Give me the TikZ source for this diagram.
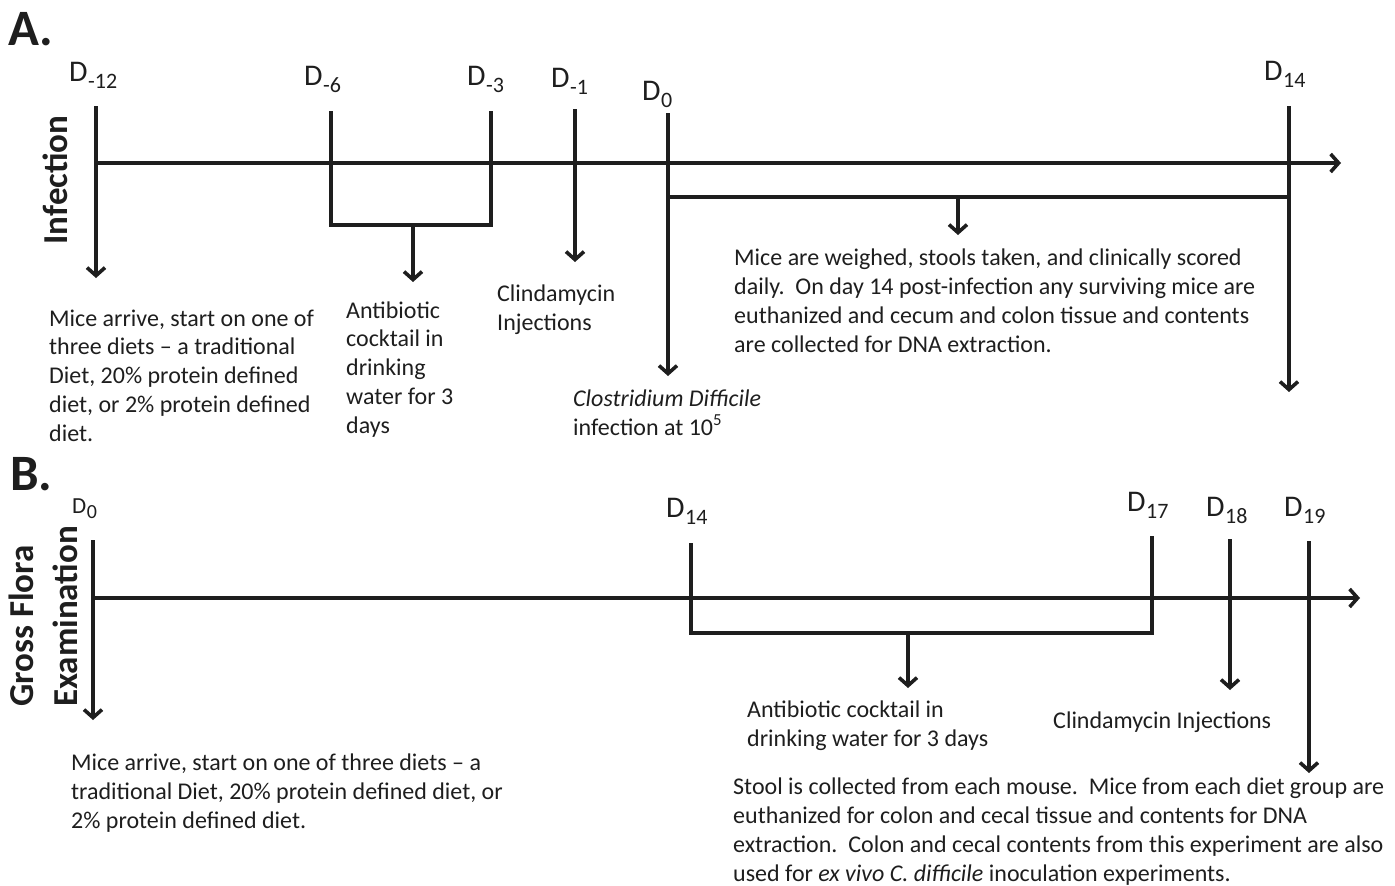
\documentclass[tikz,border=0pt]{standalone}
\usepackage{fontspec}
\setmainfont{Carlito}
\usetikzlibrary{arrows.meta}
\definecolor{ink}{RGB}{30,30,30}
\begin{document}
\begin{tikzpicture}[x=1pt,y=-1pt,
  tl/.style={draw=ink, line width=3.6pt, line join=miter},
  arr/.style={tl, -{Straight Barb[length=8pt,width=18pt]}},
  body/.style={anchor=base west, inner sep=0pt, align=left, text=ink, font=\fontsize{24}{28.7}\selectfont},
  day/.style={anchor=base west, inner sep=0pt, text=ink, font=\fontsize{30}{30}\selectfont},
  dayS/.style={anchor=base west, inner sep=0pt, text=ink, font=\fontsize{23}{23}\selectfont},
  panel/.style={anchor=base west, inner sep=0pt, text=ink, font=\fontsize{51}{51}\selectfont\bfseries},
  side/.style={inner sep=0pt, text=ink, rotate=90, font=\fontsize{35}{35}\selectfont\bfseries}]
\useasboundingbox (0,0) rectangle (1395,886);
\newcommand{\sub}[1]{\kern0.5pt\raisebox{-7pt}{\fontsize{22}{22}\selectfont #1}}
\newcommand{\subS}[1]{\kern0.5pt\raisebox{-5pt}{\fontsize{20}{20}\selectfont #1}}

% ---------- Panel A ----------
\node[panel] (pA) at (8,45) {A.};
\node[side, anchor=base] (inf) at (67,180) {Infection};

\coordinate (aL) at (96,163);
\coordinate (aR) at (1341,163);
\draw[arr] (aL) -- (aR);

\node[day] (d12) at (69,81) {D\sub{-12}};
\node[day] (d6) at (304,85) {D\sub{-6}};
\node[day] (d3) at (467,85) {D\sub{-3}};
\node[day] (d1) at (551,87) {D\sub{-1}};
\node[day] (d0) at (642,100) {D\sub{0}};
\node[day] (d14) at (1264,80) {D\sub{14}};

\coordinate (a12t) at (96,106);  \coordinate (a12b) at (96,278);
\coordinate (a6t) at (331,111);  \coordinate (a6b) at (331,225);
\coordinate (a3t) at (491,111);  \coordinate (a3b) at (491,225);
\coordinate (abm) at (413,225);  \coordinate (abe) at (413,282);
\coordinate (a1t) at (575,109);  \coordinate (a1b) at (575,262);
\coordinate (a0t) at (668,113);  \coordinate (a0b) at (668,376);
\coordinate (a0m) at (668,197);  \coordinate (a14m) at (1289,197);
\coordinate (acm) at (958,197);  \coordinate (ace) at (958,235);
\coordinate (a14t) at (1289,106); \coordinate (a14b) at (1289,392);

\draw[arr] (a12t) -- (a12b);
\draw[tl] (a6t) -- (a6b) -- (a3b) -- (a3t);
\draw[arr] (abm) -- (abe);
\draw[arr] (a1t) -- (a1b);
\draw[arr] (a0t) -- (a0b);
\draw[tl] (a0m) -- (a14m);
\draw[arr] (acm) -- (ace);
\draw[arr] (a14t) -- (a14b);

% anchor = baseline of the last line
\node[body] (tA1) at (49,441) {Mice arrive, start on one of\\three diets -- a traditional\\Diet, 20\% protein defined\\diet, or 2\% protein defined\\diet.};
\node[body] (tA2) at (346,433) {Antibiotic\\cocktail in\\drinking\\water for 3\\days};
\node[body] (tA3) at (497,330) {Clindamycin\\Injections};
\node[body] (tA4) at (573,435) {\textit{Clostridium Difficile}\\infection at 10\textsuperscript{5}};
\node[body] (tA5) at (734,352) {Mice are weighed, stools taken, and clinically scored\\daily.\ \ On day 14 post-infection any surviving mice are\\euthanized and cecum and colon tissue and contents\\are collected for DNA extraction.};

% ---------- Panel B ----------
\node[panel] (pB) at (10,490) {B.};
\node[side, anchor=base west] (gf) at (33,707) {Gross Flora};
\node[side, anchor=base west] (ex) at (77,707) {Examination};

\coordinate (bL) at (93,598);
\coordinate (bR) at (1360,598);
\draw[arr] (bL) -- (bR);

\node[dayS] (e0) at (72,513) {D\subS{0}};
\node[day] (e14) at (666,517) {D\sub{14}};
\node[day] (e17) at (1127,511) {D\sub{17}};
\node[day] (e18) at (1206,516) {D\sub{18}};
\node[day] (e19) at (1284,516) {D\sub{19}};

\coordinate (b0t) at (93,540);   \coordinate (b0b) at (93,720);
\coordinate (b14t) at (691,543); \coordinate (b14b) at (691,633);
\coordinate (b17t) at (1152,536); \coordinate (b17b) at (1152,633);
\coordinate (bbm) at (908,633);  \coordinate (bbe) at (908,688);
\coordinate (b18t) at (1230,539); \coordinate (b18b) at (1230,690);
\coordinate (b19t) at (1309,541); \coordinate (b19b) at (1309,773);

\draw[arr] (b0t) -- (b0b);
\draw[tl] (b14t) -- (b14b) -- (b17b) -- (b17t);
\draw[arr] (bbm) -- (bbe);
\draw[arr] (b18t) -- (b18b);
\draw[arr] (b19t) -- (b19b);

\node[body] (tB1) at (71,828) {Mice arrive, start on one of three diets -- a\\traditional Diet, 20\% protein defined diet, or\\2\% protein defined diet.};
\node[body] (tB2) at (747,746) {Antibiotic cocktail in\\drinking water for 3 days};
\node[body] (tB3) at (1053,728) {Clindamycin Injections};
\node[body] (tB4) at (733,881) {Stool is collected from each mouse.\ \ Mice from each diet group are\\euthanized for colon and cecal tissue and contents for DNA\\extraction.\ \ Colon and cecal contents from this experiment are also\\used for \textit{ex vivo C. difficile} inoculation experiments.};
\end{tikzpicture}
\end{document}
